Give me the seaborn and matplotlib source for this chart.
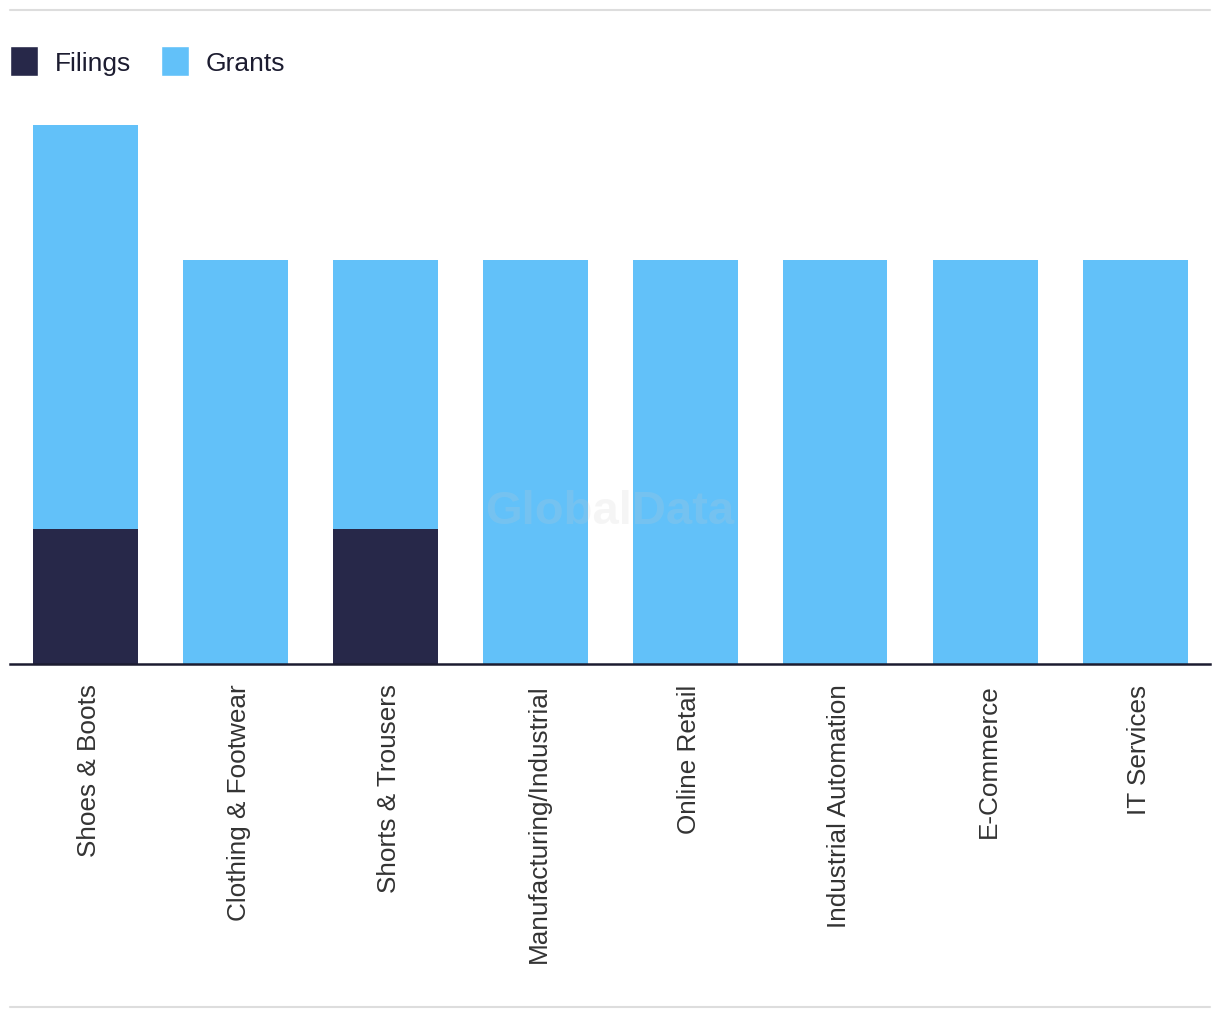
import matplotlib
matplotlib.use("Agg")
import matplotlib.pyplot as plt
import matplotlib.transforms as mtransforms
import seaborn as sns
import pandas as pd
from matplotlib.patches import Patch
from matplotlib.lines import Line2D

categories = ["Shoes & Boots", "Clothing & Footwear", "Shorts & Trousers",
              "Manufacturing/Industrial", "Online Retail", "Industrial Automation",
              "E-Commerce", "IT Services"]
filings = [1, 0, 1, 0, 0, 0, 0, 0]
grants = [3, 3, 2, 3, 3, 3, 3, 3]

filings_color = "#272849"
grants_color = "#62c1f9"

df = pd.DataFrame({"category": categories, "filings": filings, "grants": grants})
df["total"] = df["filings"] + df["grants"]

sns.set_theme(style="white")
plt.rcParams["font.family"] = ["Liberation Sans", "DejaVu Sans"]

W, H = 1220, 1020
fig = plt.figure(figsize=(W / 100, H / 100), dpi=100)
ax = fig.add_axes([10 / W, (H - 665) / H, 1200 / W, (665 - 126) / H])

sns.barplot(data=df, x="category", y="total", color=grants_color, width=0.7,
            saturation=1, ax=ax, linewidth=0)
sns.barplot(data=df, x="category", y="filings", color=filings_color, width=0.7,
            saturation=1, ax=ax, linewidth=0)

ax.set_xlim(-0.5, len(categories) - 0.5)
ax.set_ylim(0, 4)
ax.set_xlabel("")
ax.set_ylabel("")
ax.set_yticks([])
for s in ["top", "right", "left"]:
    ax.spines[s].set_visible(False)
ax.spines["bottom"].set_color("#1c1c30")
ax.spines["bottom"].set_linewidth(1.8)
ax.tick_params(axis="x", length=0, pad=14, labelsize=18.8, labelcolor="#333333")
offset = mtransforms.ScaledTranslation(4 / 100, 0, fig.dpi_scale_trans)
for lbl in ax.get_xticklabels():
    lbl.set_rotation(90)
    lbl.set_va("top")
    lbl.set_ha("center")
    lbl.set_transform(lbl.get_transform() + offset)

# watermark
ax.text(0.5, (665 - 512) / (665 - 126), "GlobalData", transform=ax.transAxes,
        ha="center", va="center", fontsize=34, fontweight="bold",
        color="#cccccc", alpha=0.18, zorder=5)

# frame lines
fig.add_artist(Line2D([10 / W, 1210 / W], [1 - 11 / H, 1 - 11 / H],
                      color="#dddddd", linewidth=1.5))
fig.add_artist(Line2D([10 / W, 1210 / W], [1 - 1008 / H, 1 - 1008 / H],
                      color="#dddddd", linewidth=1.5))

handles = [Patch(facecolor=filings_color, label="Filings"),
           Patch(facecolor=grants_color, label="Grants")]
fig.legend(handles=handles, loc="upper left", bbox_to_anchor=(10 / W, 1 - 47 / H),
           frameon=False, ncol=2, fontsize=19, handlelength=1.06, handleheight=1.38,
           handletextpad=0.64, columnspacing=1.12, borderpad=0, borderaxespad=0,
           labelcolor="#1c1c30")

fig.savefig("out.png", dpi=100)
